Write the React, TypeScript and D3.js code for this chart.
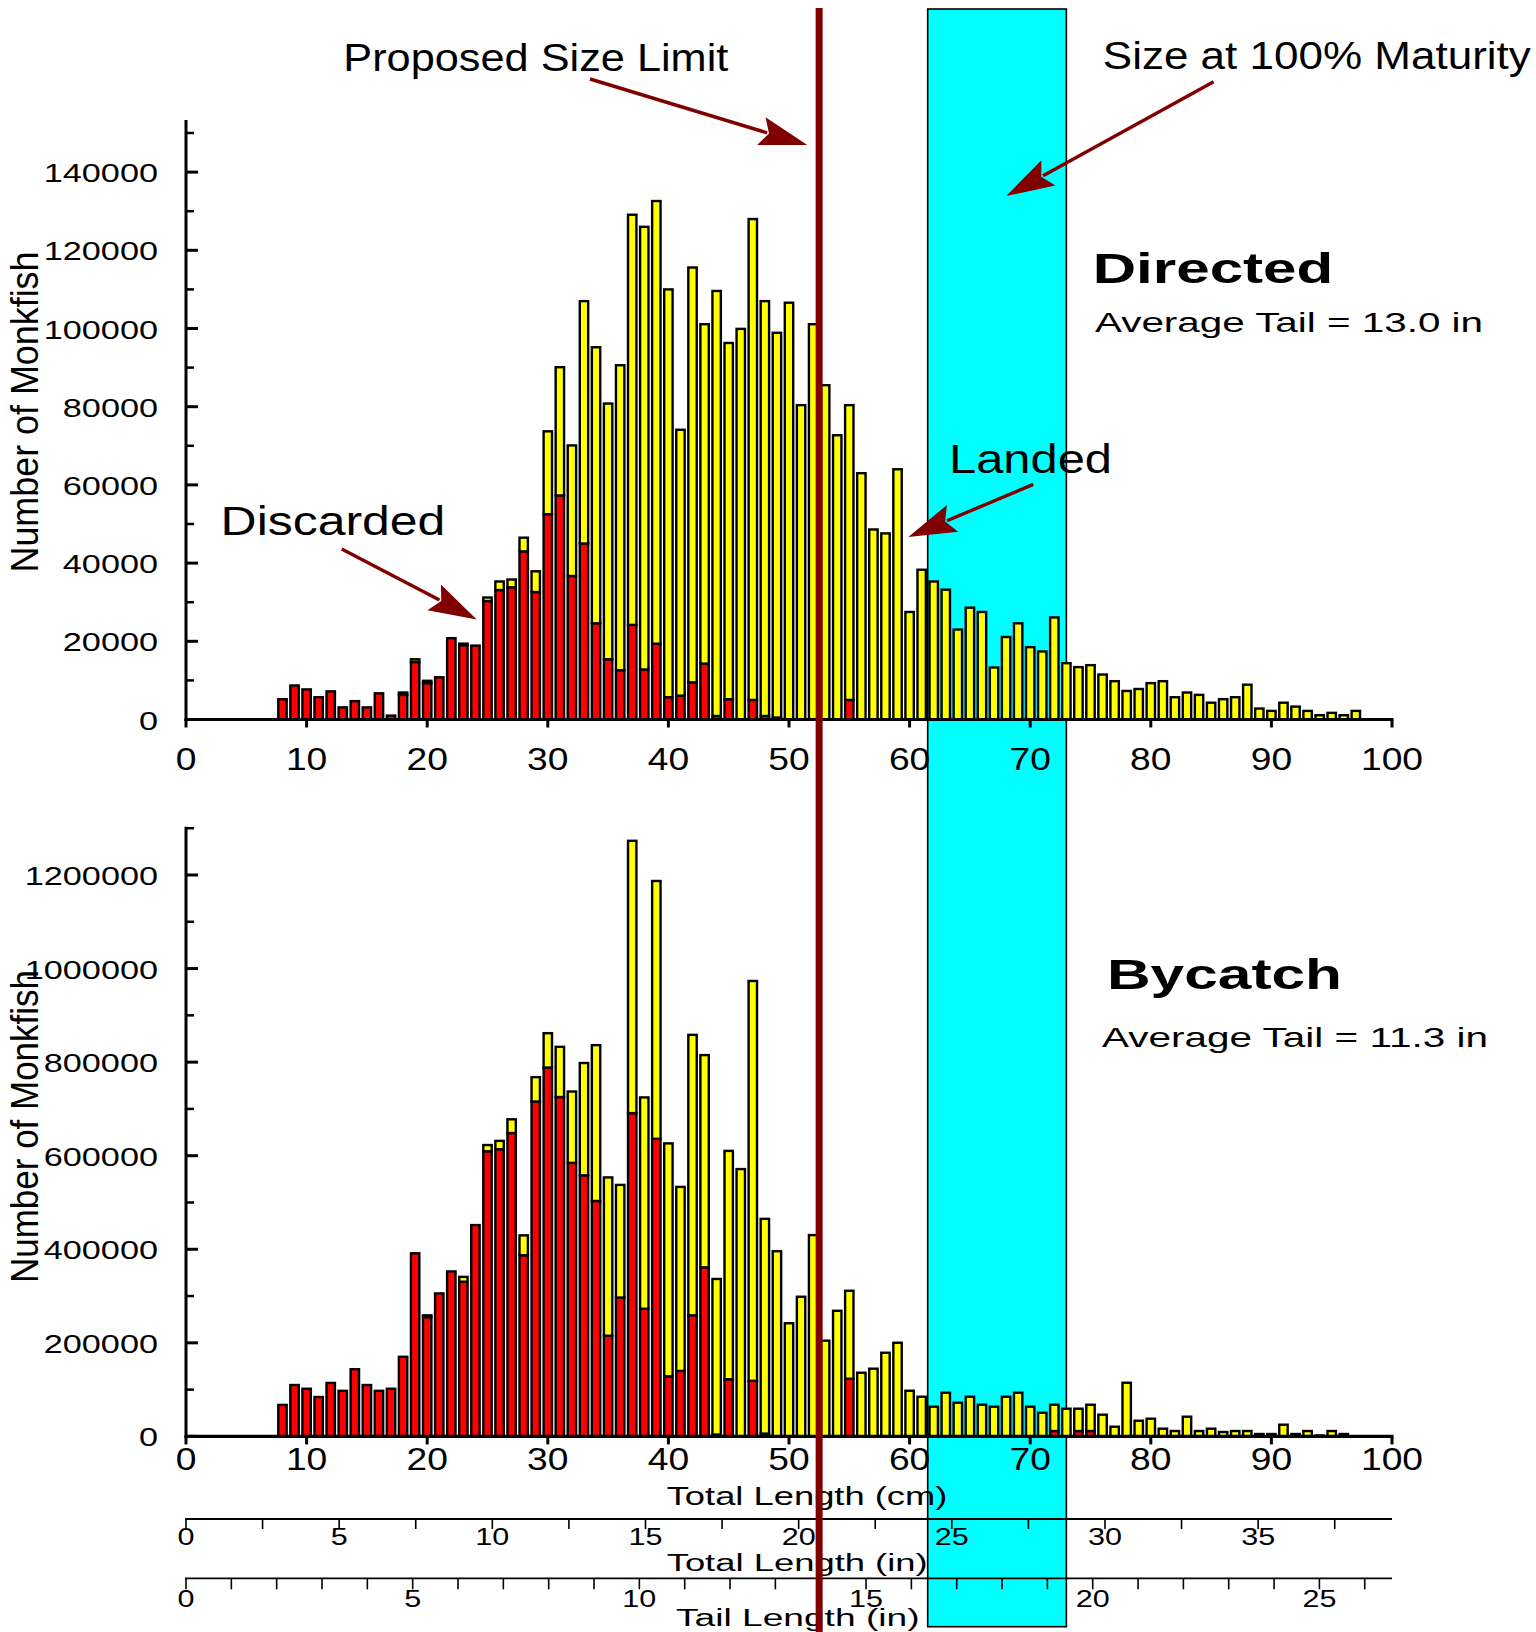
import React from 'react';
import * as d3 from 'd3';

// Length bins (cm) shared by both panels
const lengthsCm = [
  8, 9, 10, 11, 12, 13, 14, 15, 16, 17,
  18, 19, 20, 21, 22, 23, 24, 25, 26, 27,
  28, 29, 30, 31, 32, 33, 34, 35, 36, 37,
  38, 39, 40, 41, 42, 43, 44, 45, 46, 47,
  48, 49, 50, 51, 52, 53, 54, 55, 56, 57,
  58, 59, 60, 61, 62, 63, 64, 65, 66, 67,
  68, 69, 70, 71, 72, 73, 74, 75, 76, 77,
  78, 79, 80, 81, 82, 83, 84, 85, 86, 87,
  88, 89, 90, 91, 92, 93, 94, 95, 96, 97,
];

// Directed fishery: discarded (red) and landed (yellow) counts per bin
const directedDiscarded = [
  5200, 8700, 7700, 5700, 7200, 3100, 4700, 3100, 6700, 1000,
  6300, 14700, 9300, 10800, 20800, 19000, 18900, 30300, 33100, 33800,
  43000, 32600, 52500, 57300, 36700, 45000, 24600, 15400, 12600, 24200,
  12800, 19400, 5700, 6100, 9500, 14300, 900, 5200, 0, 5000,
  900, 500, 0, 0, 0, 0, 0, 5000, 0, 0,
  0, 0, 0, 0, 0, 0, 0, 0, 0, 0,
  0, 0, 0, 0, 0, 0, 0, 0, 0, 0,
  0, 0, 0, 0, 0, 0, 0, 0, 0, 0,
  0, 0, 0, 0, 0, 0, 0, 0, 0, 0,
];
const directedLanded = [
  0, 0, 0, 0, 0, 0, 0, 0, 0, 0,
  600, 700, 600, 0, 0, 400, 0, 900, 2200, 2000,
  3500, 5300, 21200, 32800, 33400, 62000, 70600, 65400, 78000, 104900,
  113200, 113200, 104300, 68000, 106100, 86800, 108700, 91100, 99900, 123000,
  106100, 98400, 106600, 80400, 101100, 85500, 72700, 75400, 63000, 48600,
  47600, 64000, 27500, 38300, 35300, 33200, 23000, 28600, 27500, 13300,
  21100, 24600, 18500, 17400, 26100, 14400, 13400, 13900, 11500, 9800,
  7300, 7800, 9300, 9800, 5700, 6900, 6300, 4300, 5200, 5700,
  8900, 2800, 2200, 4300, 3300, 2200, 1100, 1700, 1100, 2200,
];

// Bycatch: discarded (red) and landed (yellow) counts per bin
const bycatchDiscarded = [
  67300, 109800, 101900, 84200, 114300, 97400, 143600, 109800, 97400, 101900,
  170100, 391400, 255000, 305600, 352600, 330600, 451700, 609400, 613900, 648500,
  387200, 715800, 788500, 725400, 584600, 558100, 503200, 215200, 296800, 691000,
  272900, 636100, 128400, 140000, 258800, 361300, 4000, 122200, 0, 118800,
  6000, 0, 0, 0, 0, 0, 0, 123300, 0, 0,
  0, 0, 0, 0, 0, 0, 0, 0, 0, 0,
  0, 0, 0, 0, 11500, 0, 11500, 11500, 0, 0,
  0, 0, 0, 0, 0, 0, 0, 0, 0, 0,
  0, 0, 0, 0, 0, 0, 0, 0, 0, 0,
];
const bycatchLanded = [
  0, 0, 0, 0, 0, 0, 0, 0, 0, 0,
  0, 0, 3800, 0, 0, 10400, 0, 13400, 17800, 29300,
  42500, 52100, 73400, 107300, 152600, 240000, 333100, 338400, 240800, 582100,
  451700, 551100, 497900, 393300, 599500, 453700, 332500, 488100, 571400, 854700,
  459000, 395900, 241900, 298500, 430300, 204600, 268500, 188000, 136100, 144700,
  178800, 200200, 97600, 84800, 63500, 93400, 72000, 84800, 67700, 63500,
  84800, 93400, 63500, 50600, 56200, 59200, 47700, 56200, 46400, 20700,
  114700, 33500, 37800, 16500, 11500, 42100, 11500, 16500, 9400, 11500,
  11500, 5100, 5100, 25000, 5100, 11500, 2000, 11500, 5100, 0,
];

// Axis ticks
const cmTicks = [0, 10, 20, 30, 40, 50, 60, 70, 80, 90, 100];
const directedMajor = [0, 20000, 40000, 60000, 80000, 100000, 120000, 140000];
const directedMinor = [10000, 30000, 50000, 70000, 90000, 110000, 130000, 150000];
const bycatchMajor = [0, 200000, 400000, 600000, 800000, 1000000, 1200000];
const bycatchMinor = [100000, 300000, 500000, 700000, 900000, 1100000, 1300000];
const totalInLabels = [0, 5, 10, 15, 20, 25, 30, 35];
const tailInLabels = [0, 5, 10, 15, 20, 25];

// Reference marks (cm)
const proposedLimitCm = 52.5;
const maturityRangeCm = [61.5, 73];

const CM_PER_INCH = 2.54;
const TOTAL_PER_TAIL = 1.48;

const FONT = '"Liberation Sans", Arial, Helvetica, sans-serif';
const DARK_RED = '#800000';
const RED = '#ff0000';
const YELLOW = '#ffff00';
const CYAN = '#00ffff';

const x = d3.scaleLinear().domain([0, 100]).range([186, 1392]);
const yDirected = d3.scaleLinear().domain([0, 140000]).range([719.5, 172.1]);
const yBycatch = d3.scaleLinear().domain([0, 1200000]).range([1436.4, 875.0]);

function SText({ x: tx, y: ty, size, sx = 1, anchor = 'start', weight = 'normal', children }: any) {
  return (
    <text
      transform={`translate(${tx},${ty}) scale(${sx},1)`}
      fontSize={size}
      textAnchor={anchor}
      fontWeight={weight}
      fontFamily={FONT}
      fill="#000"
    >
      {children}
    </text>
  );
}

function FitText({ x: tx, y: ty, size, width, weight = 'normal', children }: any) {
  return (
    <text
      x={tx}
      y={ty}
      fontSize={size}
      fontWeight={weight}
      fontFamily={FONT}
      textLength={width}
      lengthAdjust="spacingAndGlyphs"
      fill="#000"
    >
      {children}
    </text>
  );
}

function Arrow({ from, to }: { from: [number, number]; to: [number, number] }) {
  const headLen = 48;
  const halfW = 14.5;
  const dx = to[0] - from[0];
  const dy = to[1] - from[1];
  const len = Math.hypot(dx, dy);
  const ux = dx / len;
  const uy = dy / len;
  const bx = to[0] - ux * headLen;
  const by = to[1] - uy * headLen;
  const px = -uy * halfW;
  const py = ux * halfW;
  return (
    <g>
      <line x1={from[0]} y1={from[1]} x2={bx + ux * 6} y2={by + uy * 6} stroke={DARK_RED} strokeWidth={3.4} />
      <polygon
        points={`${to[0]},${to[1]} ${bx + px},${by + py} ${bx + ux * 8},${by + uy * 8} ${bx - px},${by - py}`}
        fill={DARK_RED}
      />
    </g>
  );
}

function Panel({
  discarded,
  landed,
  y,
  major,
  minor,
  axisTopPx,
  labelCenterY,
  labelLength,
  xLabelDy,
}: any) {
  const y0 = y(0);
  const barW = 8.4;
  return (
    <g>
      {lengthsCm.map((len, i) => {
        const d = discarded[i];
        const l = landed[i];
        const bx = x(len) - barW / 2;
        return (
          <g key={len}>
            {d > 0 && (
              <rect x={bx} y={y(d)} width={barW} height={y0 - y(d)} fill={RED} stroke="#000" strokeWidth={2.4} />
            )}
            {l > 0 && (
              <rect
                x={bx}
                y={y(d + l)}
                width={barW}
                height={y(d) - y(d + l)}
                fill={YELLOW}
                stroke="#000"
                strokeWidth={2.4}
              />
            )}
          </g>
        );
      })}

      {/* y axis */}
      <line x1={x(0)} x2={x(0)} y1={y0 + 1.5} y2={axisTopPx} stroke="#000" strokeWidth={3} />
      {major.map((v: number) => (
        <line key={'M' + v} x1={x(0)} x2={x(0) + 12} y1={y(v)} y2={y(v)} stroke="#000" strokeWidth={3} />
      ))}
      {minor.map((v: number) => (
        <line key={'m' + v} x1={x(0)} x2={x(0) + 8} y1={y(v)} y2={y(v)} stroke="#000" strokeWidth={2.5} />
      ))}
      {major.map((v: number) => (
        <SText key={'L' + v} x={158} y={y(v) + 10} size={25} sx={1.37} anchor="end">
          {String(v)}
        </SText>
      ))}
      <text
        transform={`translate(38,${labelCenterY}) rotate(-90)`}
        fontSize={38}
        fontFamily={FONT}
        textAnchor="middle"
        textLength={labelLength}
        lengthAdjust="spacingAndGlyphs"
        fill="#000"
      >
        Number of Monkfish
      </text>

      {/* x axis */}
      <line x1={x(0) - 1.5} x2={x(100) + 1.5} y1={y0} y2={y0} stroke="#000" strokeWidth={3.2} />
      {cmTicks.map((v) => (
        <line key={'t' + v} x1={x(v)} x2={x(v)} y1={y0} y2={y0 + 8} stroke="#000" strokeWidth={3} />
      ))}
      {cmTicks.map((v) => (
        <SText key={'xl' + v} x={x(v)} y={y0 + xLabelDy} size={30.5} sx={1.22} anchor="middle">
          {String(v)}
        </SText>
      ))}
    </g>
  );
}

export default function App() {
  const totalInTicks = d3.range(0, 37.5 + 0.001, 2.5);
  const tailInTicks = d3.range(0, 27, 1);
  const axis2Y = 1519;
  const axis3Y = 1578.3;
  const bandX0 = x(maturityRangeCm[0]);
  const bandX1 = x(maturityRangeCm[1]);

  return (
    <svg
      width={1536}
      height={1632}
      viewBox="0 0 1536 1632"
      style={{ position: 'absolute', left: 0, top: 0, background: '#fff' }}
    >
      <rect x={0} y={0} width={1536} height={1632} fill="#fff" />

      {/* maturity band */}
      <rect
        x={bandX0}
        y={9}
        width={bandX1 - bandX0}
        height={1617.7}
        fill={CYAN}
        stroke="#000"
        strokeWidth={1.6}
      />

      <Panel
        discarded={directedDiscarded}
        landed={directedLanded}
        y={yDirected}
        major={directedMajor}
        minor={directedMinor}
        axisTopPx={120}
        labelCenterY={412}
        labelLength={321}
        xLabelDy={50.5}
      />
      <Panel
        discarded={bycatchDiscarded}
        landed={bycatchLanded}
        y={yBycatch}
        major={bycatchMajor}
        minor={bycatchMinor}
        axisTopPx={yBycatch(1300000) - 1.5}
        labelCenterY={1126.5}
        labelLength={313}
        xLabelDy={34}
      />

      <FitText x={666.7} y={1505} size={25.5} width={280.7}>
        Total Length (cm)
      </FitText>

      {/* total length, inches */}
      <line x1={x(0) - 1} x2={x(100)} y1={axis2Y} y2={axis2Y} stroke="#000" strokeWidth={1.8} />
      {totalInTicks.map((v) => (
        <line
          key={'ti' + v}
          x1={x(v * CM_PER_INCH)}
          x2={x(v * CM_PER_INCH)}
          y1={axis2Y}
          y2={axis2Y + 10}
          stroke="#000"
          strokeWidth={1.6}
        />
      ))}
      {totalInLabels.map((v) => (
        <SText key={'til' + v} x={x(v * CM_PER_INCH)} y={1545} size={23.5} sx={1.3} anchor="middle">
          {String(v)}
        </SText>
      ))}
      <FitText x={666.7} y={1571} size={23} width={261}>
        Total Length (in)
      </FitText>

      {/* tail length, inches */}
      <line x1={x(0) - 1} x2={x(100)} y1={axis3Y} y2={axis3Y} stroke="#000" strokeWidth={1.8} />
      {tailInTicks.map((v) => (
        <line
          key={'tl' + v}
          x1={x(v * TOTAL_PER_TAIL * CM_PER_INCH)}
          x2={x(v * TOTAL_PER_TAIL * CM_PER_INCH)}
          y1={axis3Y}
          y2={axis3Y + 11}
          stroke="#000"
          strokeWidth={1.6}
        />
      ))}
      {tailInLabels.map((v) => (
        <SText key={'tll' + v} x={x(v * TOTAL_PER_TAIL * CM_PER_INCH)} y={1607} size={23.5} sx={1.3} anchor="middle">
          {String(v)}
        </SText>
      ))}
      <FitText x={676} y={1626} size={23} width={243.5}>
        Tail Length (in)
      </FitText>

      {/* annotations */}
      <FitText x={343.3} y={71} size={39.5} width={385}>
        Proposed Size Limit
      </FitText>
      <FitText x={1102.8} y={69} size={38} width={428}>
        Size at 100% Maturity
      </FitText>
      <FitText x={1092.7} y={283.3} size={43} width={240.6} weight="bold">
        Directed
      </FitText>
      <FitText x={1095} y={332} size={27.5} width={388}>
        Average Tail = 13.0 in
      </FitText>
      <FitText x={1107} y={989} size={42} width={235} weight="bold">
        Bycatch
      </FitText>
      <FitText x={1102} y={1047} size={27.5} width={386}>
        Average Tail = 11.3 in
      </FitText>
      <FitText x={949} y={473} size={40} width={163}>
        Landed
      </FitText>
      <FitText x={220.6} y={535} size={40} width={224.8}>
        Discarded
      </FitText>

      {/* proposed size limit */}
      <line
        x1={x(proposedLimitCm)}
        x2={x(proposedLimitCm)}
        y1={8}
        y2={1632}
        stroke={DARK_RED}
        strokeWidth={7}
      />

      <Arrow from={[590, 79]} to={[807.3, 145]} />
      <Arrow from={[1213.6, 81.7]} to={[1006.3, 196]} />
      <Arrow from={[1033.3, 484.4]} to={[908.3, 537]} />
      <Arrow from={[341.7, 548.9]} to={[476.7, 619.6]} />
    </svg>
  );
}
